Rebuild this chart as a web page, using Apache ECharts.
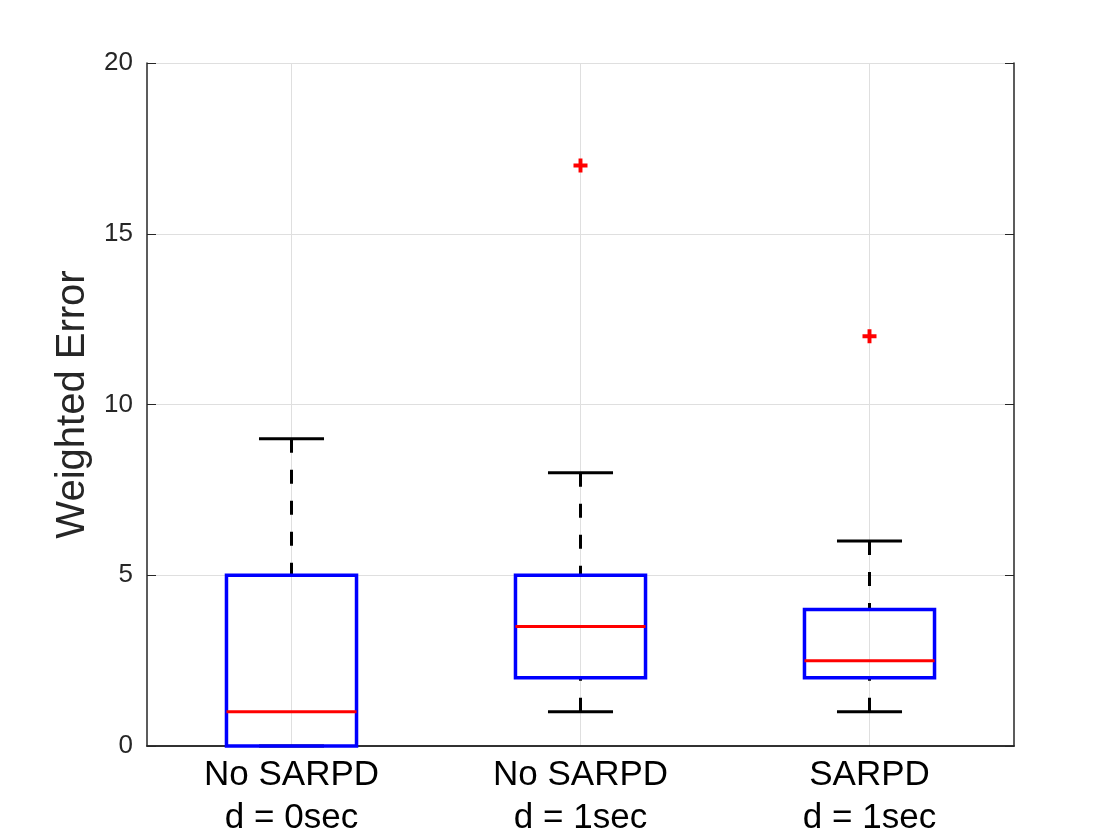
<!DOCTYPE html>
<html>
<head>
<meta charset="utf-8">
<script src="https://cdn.jsdelivr.net/npm/echarts@6/dist/echarts.min.js"></script>
<style>
  html, body { margin: 0; padding: 0; background: #fff; }
  #main { width: 1120px; height: 840px; }
</style>
</head>
<body>
<div id="main"></div>
<script>
// boxplot, matlab style
var categories = ['No SARPD\nd = 0sec', 'No SARPD\nd = 1sec', 'SARPD\nd = 1sec'];
var whiskerLow = [0, 1, 1];
var q1 = [0, 2, 2];
var medians = [1, 3.5, 2.5];
var q3 = [5, 5, 4];
var whiskerHigh = [9, 8, 6];
var outlierIdx = [1, 2];
var outlierVal = [17, 12];

var boxData = categories.map(function (c, i) {
  return [i, whiskerLow[i], q1[i], medians[i], q3[i], whiskerHigh[i]];
});
var outlierData = outlierIdx.map(function (c, i) {
  return [c, outlierVal[i]];
});

var font = 'Liberation Sans, Helvetica, Arial, sans-serif';
var axisCol = '#262626';

var chart = echarts.init(document.getElementById('main'));

function renderBox(params, api) {
  var idx = api.value(0);
  var band = api.size([1, 0])[0];
  var half = band * 0.225;
  var cap = half / 2;
  var pLow = api.coord([idx, api.value(1)]);
  var pQ1 = api.coord([idx, api.value(2)]);
  var pMed = api.coord([idx, api.value(3)]);
  var pQ3 = api.coord([idx, api.value(4)]);
  var pHigh = api.coord([idx, api.value(5)]);
  var x = pMed[0];
  var dash = { stroke: '#000', lineWidth: 3, lineDash: [14, 17], fill: null };
  var solid = { stroke: '#000', lineWidth: 3, fill: null };
  return {
    type: 'group',
    children: [
      { type: 'line', shape: { x1: x, y1: pHigh[1], x2: x, y2: pQ3[1] }, style: dash },
      { type: 'line', shape: { x1: x, y1: pLow[1], x2: x, y2: pQ1[1] }, style: dash },
      { type: 'line', shape: { x1: x - cap, y1: pHigh[1], x2: x + cap, y2: pHigh[1] }, style: solid },
      { type: 'line', shape: { x1: x - cap, y1: pLow[1], x2: x + cap, y2: pLow[1] }, style: solid },
      { type: 'rect', shape: { x: x - half, y: pQ3[1], width: half * 2, height: pQ1[1] - pQ3[1] },
        style: { stroke: '#0000ff', lineWidth: 3.5, fill: null } },
      { type: 'line', shape: { x1: x - half, y1: pMed[1], x2: x + half, y2: pMed[1] },
        style: { stroke: '#ff0000', lineWidth: 3, fill: null } }
    ]
  };
}

var option = {
  animation: false,
  grid: { left: 147, right: 106, top: 63, bottom: 93 },
  xAxis: [{
    type: 'category',
    data: categories,
    boundaryGap: true,
    axisLine: { lineStyle: { color: axisCol, width: 1.5 } },
    axisTick: { inside: true, alignWithLabel: true, length: 9, lineStyle: { color: axisCol } },
    axisLabel: { color: '#000', fontSize: 35, lineHeight: 43, fontFamily: font, margin: 8 },
    splitLine: { show: true, alignWithLabel: true, lineStyle: { color: '#dfdfdf', width: 1 } }
  }, {
    type: 'category',
    data: categories,
    position: 'top',
    boundaryGap: true,
    axisLine: { lineStyle: { color: axisCol, width: 1.5 } },
    axisTick: { inside: true, alignWithLabel: true, length: 9, lineStyle: { color: axisCol } },
    axisLabel: { show: false },
    splitLine: { show: false }
  }],
  yAxis: [{
    type: 'value',
    min: 0,
    max: 20,
    interval: 5,
    name: 'Weighted Error',
    nameLocation: 'middle',
    nameGap: 54,
    nameTextStyle: { color: axisCol, fontSize: 40, fontFamily: font },
    axisLine: { show: true, lineStyle: { color: axisCol, width: 1.5 } },
    axisTick: { show: true, inside: true, length: 9, lineStyle: { color: axisCol } },
    axisLabel: { color: axisCol, fontSize: 26, fontFamily: font, margin: 14 },
    splitLine: { show: true, lineStyle: { color: '#dfdfdf', width: 1 } }
  }, {
    type: 'value',
    min: 0,
    max: 20,
    interval: 5,
    position: 'right',
    axisLine: { show: true, lineStyle: { color: axisCol, width: 1.5 } },
    axisTick: { show: true, inside: true, length: 9, lineStyle: { color: axisCol } },
    axisLabel: { show: false },
    splitLine: { show: false }
  }],
  series: [{
    type: 'custom',
    renderItem: renderBox,
    data: boxData,
    encode: { x: 0, y: [1, 2, 3, 4, 5] },
    z: 3
  }, {
    type: 'scatter',
    data: outlierData,
    symbol: 'path://M3.6,0H6.4V3.6H10V6.4H6.4V10H3.6V6.4H0V3.6H3.6Z',
    symbolSize: 14,
    itemStyle: { color: '#ff0000', opacity: 1 },
    z: 4
  }]
};
chart.setOption(option);
</script>
</body>
</html>
